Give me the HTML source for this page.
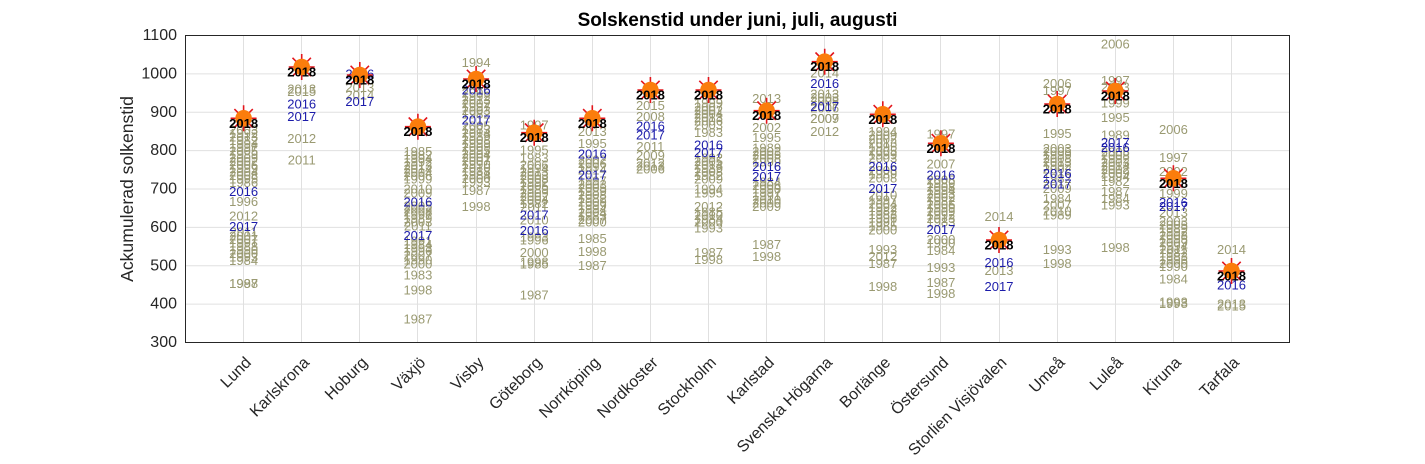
<!DOCTYPE html>
<html><head><meta charset="utf-8"><style>
html,body{margin:0;padding:0;background:#fff;}
svg{display:block;}
text{font-family:"Liberation Sans",Arial,sans-serif;}
.o text{fill:#9a9a72;font-size:13px;text-anchor:middle;dominant-baseline:central;}
.b text{fill:#1c1caa;font-size:13px;text-anchor:middle;dominant-baseline:central;}
.k{fill:#000;font-size:13px;font-weight:bold;text-anchor:middle;dominant-baseline:central;}
.xl{font-size:16px;fill:#262626;text-anchor:end;}
.yl{font-size:16px;fill:#262626;text-anchor:end;dominant-baseline:central;}
</style></head><body>
<svg width="1425" height="464" viewBox="0 0 1425 464" xmlns="http://www.w3.org/2000/svg">
<defs>
<g id="st"><path d="M-13 0H13M0-13V13M-9.2-9.2L9.2 9.2M-9.2 9.2L9.2-9.2" stroke="#e3161c" stroke-width="1.6"/><circle r="8.3" fill="#fb7d0c"/></g>
</defs>
<rect width="1425" height="464" fill="#fff"/>
<!-- grid -->
<g stroke="#e0e0e0" stroke-width="1">
<line x1="185.5" x2="1289.5" y1="73.9" y2="73.9"/>
<line x1="185.5" x2="1289.5" y1="112.3" y2="112.3"/>
<line x1="185.5" x2="1289.5" y1="150.6" y2="150.6"/>
<line x1="185.5" x2="1289.5" y1="189" y2="189"/>
<line x1="185.5" x2="1289.5" y1="227.4" y2="227.4"/>
<line x1="185.5" x2="1289.5" y1="265.8" y2="265.8"/>
<line x1="185.5" x2="1289.5" y1="304.1" y2="304.1"/>
<line y1="35.5" y2="342.5" x1="243.5" x2="243.5"/>
<line y1="35.5" y2="342.5" x1="301.5" x2="301.5"/>
<line y1="35.5" y2="342.5" x1="359.5" x2="359.5"/>
<line y1="35.5" y2="342.5" x1="417.5" x2="417.5"/>
<line y1="35.5" y2="342.5" x1="476.5" x2="476.5"/>
<line y1="35.5" y2="342.5" x1="534.5" x2="534.5"/>
<line y1="35.5" y2="342.5" x1="592.5" x2="592.5"/>
<line y1="35.5" y2="342.5" x1="650.5" x2="650.5"/>
<line y1="35.5" y2="342.5" x1="708.5" x2="708.5"/>
<line y1="35.5" y2="342.5" x1="766.5" x2="766.5"/>
<line y1="35.5" y2="342.5" x1="824.5" x2="824.5"/>
<line y1="35.5" y2="342.5" x1="882.5" x2="882.5"/>
<line y1="35.5" y2="342.5" x1="940.5" x2="940.5"/>
<line y1="35.5" y2="342.5" x1="999.5" x2="999.5"/>
<line y1="35.5" y2="342.5" x1="1057.5" x2="1057.5"/>
<line y1="35.5" y2="342.5" x1="1115.5" x2="1115.5"/>
<line y1="35.5" y2="342.5" x1="1173.5" x2="1173.5"/>
<line y1="35.5" y2="342.5" x1="1231.5" x2="1231.5"/>
</g>

<!-- olive labels -->
<g class="o">
<g transform="translate(243.6,0)">
<text x="0" y="130">2003</text><text x="0" y="133.5">1992</text><text x="0" y="137">2013</text><text x="0" y="140.5">1982</text><text x="0" y="144">1994</text><text x="0" y="147.5">1997</text><text x="0" y="151">2005</text><text x="0" y="154.5">1989</text><text x="0" y="158">2009</text><text x="0" y="161.5">2002</text><text x="0" y="165">2006</text><text x="0" y="168.5">1999</text><text x="0" y="172">2004</text><text x="0" y="175.5">2008</text><text x="0" y="179">1995</text><text x="0" y="182.5">1986</text>
<text x="0" y="201.7">1996</text><text x="0" y="216">2012</text>
<text x="0" y="232">2011</text><text x="0" y="236">2001</text><text x="0" y="239.5">2007</text><text x="0" y="243">1991</text><text x="0" y="246.5">1988</text><text x="0" y="250">1990</text><text x="0" y="253.5">2000</text><text x="0" y="257">1993</text><text x="0" y="260.7">1984</text>
<text x="0" y="283.3">1987</text><text x="0" y="283.3">1998</text>
</g>
<g transform="translate(301.7,0)">
<text x="0" y="89">2013</text><text x="0" y="91.5">2015</text><text x="0" y="138.7">2012</text><text x="0" y="160">2011</text>
</g>
<g transform="translate(359.8,0)">
<text x="0" y="87.5">2013</text><text x="0" y="95">2014</text>
</g>
<g transform="translate(417.9,0)">
<text x="0" y="151.7">1985</text><text x="0" y="155">1982</text><text x="0" y="158.5">1994</text><text x="0" y="162">1992</text><text x="0" y="165.5">2013</text><text x="0" y="169">2014</text><text x="0" y="172.5">2004</text><text x="0" y="176">2006</text><text x="0" y="179">1999</text>
<text x="0" y="189">2010</text><text x="0" y="193">2009</text>
<text x="0" y="206">2005</text><text x="0" y="209">2002</text><text x="0" y="212">2008</text><text x="0" y="215">1997</text><text x="0" y="218.5">1989</text><text x="0" y="222">2003</text><text x="0" y="226">2011</text>
<text x="0" y="241">1991</text><text x="0" y="244.5">1984</text><text x="0" y="248">1993</text><text x="0" y="251">1996</text><text x="0" y="255">2007</text><text x="0" y="260">1990</text><text x="0" y="264">2000</text><text x="0" y="275">1983</text>
<text x="0" y="290">1998</text><text x="0" y="319">1987</text>
</g>
<g transform="translate(476.1,0)">
<text x="0" y="62.7">1994</text>
<text x="0" y="93">2006</text><text x="0" y="96.5">1992</text><text x="0" y="100">2013</text><text x="0" y="103.5">2002</text><text x="0" y="107">1997</text><text x="0" y="110.5">2003</text><text x="0" y="114">1982</text>
<text x="0" y="126">2005</text><text x="0" y="129.5">1983</text><text x="0" y="133">2014</text><text x="0" y="136.5">1989</text><text x="0" y="140">2008</text><text x="0" y="143.5">1999</text><text x="0" y="147">2009</text><text x="0" y="150.5">1995</text><text x="0" y="154">2004</text><text x="0" y="157.5">2001</text><text x="0" y="161">2007</text><text x="0" y="164.5">1990</text><text x="0" y="168">2010</text><text x="0" y="171.5">1988</text><text x="0" y="175">1984</text><text x="0" y="178.5">2000</text><text x="0" y="182">1993</text>
<text x="0" y="190.7">1987</text><text x="0" y="206.7">1998</text>
</g>
<g transform="translate(534.2,0)">
<text x="0" y="125">1997</text><text x="0" y="150">1995</text><text x="0" y="158">1983</text>
<text x="0" y="165">2006</text><text x="0" y="168.5">1994</text><text x="0" y="172">2013</text><text x="0" y="175.5">2003</text><text x="0" y="179">2008</text><text x="0" y="182.5">1992</text><text x="0" y="186">2005</text><text x="0" y="189.5">1989</text><text x="0" y="193">2009</text><text x="0" y="196.5">2002</text><text x="0" y="200">2004</text><text x="0" y="203.5">1982</text><text x="0" y="207">2011</text>
<text x="0" y="220">2010</text><text x="0" y="237">1993</text><text x="0" y="240">1996</text>
<text x="0" y="252.7">2000</text><text x="0" y="262">1998</text><text x="0" y="264">1985</text><text x="0" y="295">1987</text>
</g>
<g transform="translate(592.3,0)">
<text x="0" y="131.7">2013</text><text x="0" y="143.3">1995</text>
<text x="0" y="160">2002</text><text x="0" y="163.5">2006</text><text x="0" y="167">1992</text><text x="0" y="170">2014</text>
<text x="0" y="181">1997</text><text x="0" y="184.5">2003</text><text x="0" y="188">2005</text><text x="0" y="191.5">1989</text><text x="0" y="195">2008</text><text x="0" y="198.5">1982</text><text x="0" y="202">2009</text><text x="0" y="205.5">1999</text><text x="0" y="209">1994</text><text x="0" y="212.5">2004</text><text x="0" y="216">1983</text><text x="0" y="219.5">2007</text><text x="0" y="222">2000</text>
<text x="0" y="238.3">1985</text><text x="0" y="251.7">1998</text><text x="0" y="265.7">1987</text>
</g>
<g transform="translate(650.4,0)">
<text x="0" y="105.7">2015</text><text x="0" y="116.7">2008</text><text x="0" y="146.7">2011</text><text x="0" y="155.7">2009</text><text x="0" y="163">2012</text><text x="0" y="166">2013</text><text x="0" y="169">2006</text>
</g>
<g transform="translate(708.5,0)">
<text x="0" y="103">1999</text><text x="0" y="107">2007</text><text x="0" y="110.5">2002</text><text x="0" y="114">2004</text><text x="0" y="117.5">2013</text><text x="0" y="121">2006</text><text x="0" y="125">2003</text><text x="0" y="132.7">1983</text>
<text x="0" y="158">1992</text><text x="0" y="161.5">2005</text><text x="0" y="165">2014</text><text x="0" y="168.5">1989</text><text x="0" y="172">2008</text><text x="0" y="175.5">1982</text><text x="0" y="179">2009</text>
<text x="0" y="189">1994</text><text x="0" y="193">1995</text><text x="0" y="206.7">2012</text><text x="0" y="212">1985</text><text x="0" y="215.5">2010</text><text x="0" y="219">1984</text><text x="0" y="222">2000</text><text x="0" y="228">1993</text>
<text x="0" y="252.7">1987</text><text x="0" y="259.3">1998</text>
</g>
<g transform="translate(766.6,0)">
<text x="0" y="98.3">2013</text><text x="0" y="127.7">2002</text><text x="0" y="137.3">1995</text>
<text x="0" y="148">1989</text><text x="0" y="151.5">2003</text><text x="0" y="155">2005</text><text x="0" y="158.5">2008</text><text x="0" y="162">1999</text>
<text x="0" y="182">1984</text><text x="0" y="185.5">2006</text><text x="0" y="189">1990</text><text x="0" y="192.5">1997</text><text x="0" y="196">1991</text><text x="0" y="200">2010</text><text x="0" y="203">2000</text><text x="0" y="206.7">2009</text>
<text x="0" y="244.3">1987</text><text x="0" y="256.7">1998</text>
</g>
<g transform="translate(824.7,0)">
<text x="0" y="73">2014</text><text x="0" y="94">2013</text><text x="0" y="97.5">2003</text><text x="0" y="101">2008</text><text x="0" y="108">2006</text><text x="0" y="118.3">2009</text><text x="0" y="118.3">2007</text><text x="0" y="131.7">2012</text>
</g>
<g transform="translate(882.8,0)">
<text x="0" y="131.7">1994</text><text x="0" y="135">2009</text><text x="0" y="139">2002</text><text x="0" y="143">2013</text><text x="0" y="147">1995</text><text x="0" y="151">2005</text><text x="0" y="155">1999</text><text x="0" y="158">2003</text>
<text x="0" y="170.5">2006</text><text x="0" y="174">1989</text><text x="0" y="178">2008</text>
<text x="0" y="195">2010</text><text x="0" y="200">1997</text><text x="0" y="204">2004</text><text x="0" y="207.5">1992</text><text x="0" y="211">1982</text><text x="0" y="214.5">1983</text><text x="0" y="218">1996</text><text x="0" y="222">1991</text><text x="0" y="226">1985</text><text x="0" y="230">2000</text>
<text x="0" y="249.3">1993</text><text x="0" y="256.7">2012</text><text x="0" y="263.3">1987</text><text x="0" y="286.7">1998</text>
</g>
<g transform="translate(940.9,0)">
<text x="0" y="134">1997</text><text x="0" y="164">2007</text>
<text x="0" y="180">2005</text><text x="0" y="183.5">1989</text><text x="0" y="187">2008</text><text x="0" y="190.5">1994</text><text x="0" y="194">2003</text><text x="0" y="197.5">2002</text><text x="0" y="201">1982</text><text x="0" y="204.5">2006</text><text x="0" y="208">1999</text><text x="0" y="211.5">2009</text><text x="0" y="215">1992</text><text x="0" y="218.5">2013</text><text x="0" y="222">1983</text>
<text x="0" y="239.3">2000</text><text x="0" y="243">1990</text><text x="0" y="250.7">1984</text>
<text x="0" y="267.7">1993</text><text x="0" y="282.7">1987</text><text x="0" y="293.3">1998</text>
</g>
<g transform="translate(999,0)">
<text x="0" y="216.7">2014</text><text x="0" y="270.7">2013</text>
</g>
<g transform="translate(1057.2,0)">
<text x="0" y="83.3">2006</text><text x="0" y="90.7">1997</text><text x="0" y="133.3">1995</text>
<text x="0" y="148.3">2003</text><text x="0" y="151.5">2005</text><text x="0" y="155">1999</text><text x="0" y="158.5">2008</text><text x="0" y="162">2013</text><text x="0" y="165.5">1992</text><text x="0" y="169">2002</text>
<text x="0" y="178.5">1982</text><text x="0" y="188.5">2009</text><text x="0" y="198.3">1984</text><text x="0" y="205">2007</text><text x="0" y="211">2010</text><text x="0" y="215">1989</text>
<text x="0" y="249.3">1993</text><text x="0" y="263.3">1998</text>
</g>
<g transform="translate(1115.3,0)">
<text x="0" y="44">2006</text><text x="0" y="80.7">1997</text><text x="0" y="87">2013</text><text x="0" y="103">1999</text><text x="0" y="117.3">1995</text><text x="0" y="135">1989</text>
<text x="0" y="152">2005</text><text x="0" y="155.5">2008</text><text x="0" y="159">1992</text><text x="0" y="162.5">2003</text><text x="0" y="166">2014</text><text x="0" y="169.5">2002</text><text x="0" y="173">2009</text><text x="0" y="176.5">1994</text><text x="0" y="181.7">1982</text>
<text x="0" y="191.7">1987</text><text x="0" y="198.3">1984</text><text x="0" y="205">1993</text><text x="0" y="247.7">1998</text>
</g>
<g transform="translate(1173.4,0)">
<text x="0" y="129.3">2006</text><text x="0" y="157.7">1997</text><text x="0" y="171.7">2002</text><text x="0" y="193.3">1999</text><text x="0" y="212.7">2013</text>
<text x="0" y="221.7">2003</text><text x="0" y="225">2005</text><text x="0" y="228.5">1989</text><text x="0" y="232">1992</text><text x="0" y="235.5">2008</text><text x="0" y="239">1995</text><text x="0" y="242.5">2009</text><text x="0" y="246">1994</text><text x="0" y="249.5">2011</text><text x="0" y="253">1982</text><text x="0" y="256.5">1983</text><text x="0" y="260">1996</text><text x="0" y="263.5">2000</text><text x="0" y="266.7">1990</text>
<text x="0" y="279">1984</text><text x="0" y="302">1993</text><text x="0" y="303.5">1998</text>
</g>
<g transform="translate(1231.5,0)">
<text x="0" y="249.3">2014</text><text x="0" y="304">2013</text><text x="0" y="306">2015</text>
</g>
</g>

<!-- blue labels -->
<g class="b">
<text x="243.6" y="191.7">2016</text><text x="243.6" y="226.7">2017</text>
<text x="301.7" y="104">2016</text><text x="301.7" y="116.7">2017</text>
<text x="359.8" y="74">2016</text><text x="359.8" y="101.7">2017</text>
<text x="417.9" y="202">2016</text><text x="417.9" y="235.7">2017</text>
<text x="476.1" y="90">2016</text><text x="476.1" y="120">2017</text>
<text x="534.2" y="230.7">2016</text><text x="534.2" y="215">2017</text>
<text x="592.3" y="154">2016</text><text x="592.3" y="175">2017</text>
<text x="650.4" y="126">2016</text><text x="650.4" y="135">2017</text>
<text x="708.5" y="145">2016</text><text x="708.5" y="152.7">2017</text>
<text x="766.6" y="166.7">2016</text><text x="766.6" y="176.7">2017</text>
<text x="824.7" y="83.3">2016</text><text x="824.7" y="106.7">2017</text>
<text x="882.8" y="166.7">2016</text><text x="882.8" y="188.3">2017</text>
<text x="940.9" y="175">2016</text><text x="940.9" y="229.3">2017</text>
<text x="999" y="262.7">2016</text><text x="999" y="286.7">2017</text>
<text x="1057.2" y="173.3">2016</text><text x="1057.2" y="184">2017</text>
<text x="1115.3" y="147.3">2016</text><text x="1115.3" y="142.7">2017</text>
<text x="1173.4" y="202.7">2016</text><text x="1173.4" y="206.7">2017</text>
<text x="1231.5" y="285">2016</text>
</g>

<!-- stars (marker ~5px above label centre) -->
<g>
<use href="#st" transform="translate(243.6,118.3)"/>
<use href="#st" transform="translate(301.7,67)"/>
<use href="#st" transform="translate(359.8,75)"/>
<use href="#st" transform="translate(417.9,126.7)"/>
<use href="#st" transform="translate(476.1,79)"/>
<use href="#st" transform="translate(534.2,132.7)"/>
<use href="#st" transform="translate(592.3,118.3)"/>
<use href="#st" transform="translate(650.4,90)"/>
<use href="#st" transform="translate(708.5,90)"/>
<use href="#st" transform="translate(766.6,110.7)"/>
<use href="#st" transform="translate(824.7,61.7)"/>
<use href="#st" transform="translate(882.8,114.3)"/>
<use href="#st" transform="translate(940.9,143.3)"/>
<use href="#st" transform="translate(999,240)"/>
<use href="#st" transform="translate(1057.2,104)"/>
<use href="#st" transform="translate(1115.3,91)"/>
<use href="#st" transform="translate(1173.4,178.3)"/>
<use href="#st" transform="translate(1231.5,271)"/>
</g>
<g>
<text class="k" x="243.6" y="123.3">2018</text>
<text class="k" x="301.7" y="72">2018</text>
<text class="k" x="359.8" y="80">2018</text>
<text class="k" x="417.9" y="131.7">2018</text>
<text class="k" x="476.1" y="84">2018</text>
<text class="k" x="534.2" y="137.7">2018</text>
<text class="k" x="592.3" y="123.3">2018</text>
<text class="k" x="650.4" y="95">2018</text>
<text class="k" x="708.5" y="95">2018</text>
<text class="k" x="766.6" y="115.7">2018</text>
<text class="k" x="824.7" y="66.7">2018</text>
<text class="k" x="882.8" y="119.3">2018</text>
<text class="k" x="940.9" y="148.3">2018</text>
<text class="k" x="999" y="245">2018</text>
<text class="k" x="1057.2" y="109">2018</text>
<text class="k" x="1115.3" y="96">2018</text>
<text class="k" x="1173.4" y="183.3">2018</text>
<text class="k" x="1231.5" y="276">2018</text>
</g>

<!-- axes box -->
<rect x="185.5" y="35.5" width="1104" height="307" fill="none" stroke="#262626" stroke-width="1"/>

<!-- y tick labels -->
<g class="yl">
<text x="177" y="35.5">1100</text>
<text x="177" y="73.9">1000</text>
<text x="177" y="112.3">900</text>
<text x="177" y="150.6">800</text>
<text x="177" y="189">700</text>
<text x="177" y="227.4">600</text>
<text x="177" y="265.8">500</text>
<text x="177" y="304.1">400</text>
<text x="177" y="342.5">300</text>
</g>

<!-- x tick labels -->
<g class="xl">
<text transform="translate(252.1,363.5) rotate(-45)">Lund</text>
<text transform="translate(310.2,363.5) rotate(-45)">Karlskrona</text>
<text transform="translate(368.3,363.5) rotate(-45)">Hoburg</text>
<text transform="translate(426.4,363.5) rotate(-45)">Växjö</text>
<text transform="translate(484.6,363.5) rotate(-45)">Visby</text>
<text transform="translate(542.7,363.5) rotate(-45)">Göteborg</text>
<text transform="translate(600.8,363.5) rotate(-45)">Norrköping</text>
<text transform="translate(658.9,363.5) rotate(-45)">Nordkoster</text>
<text transform="translate(717,363.5) rotate(-45)">Stockholm</text>
<text transform="translate(775.1,363.5) rotate(-45)">Karlstad</text>
<text transform="translate(833.2,363.5) rotate(-45)">Svenska Högarna</text>
<text transform="translate(891.3,363.5) rotate(-45)">Borlänge</text>
<text transform="translate(949.4,363.5) rotate(-45)">Östersund</text>
<text transform="translate(1007.5,363.5) rotate(-45)">Storlien Visjövalen</text>
<text transform="translate(1065.7,363.5) rotate(-45)">Umeå</text>
<text transform="translate(1123.8,363.5) rotate(-45)">Luleå</text>
<text transform="translate(1181.9,363.5) rotate(-45)">Kiruna</text>
<text transform="translate(1240,363.5) rotate(-45)">Tarfala</text>
</g>

<!-- y label -->
<text transform="translate(133,189) rotate(-90)" text-anchor="middle" style="font-size:17.6px;fill:#262626;">Ackumulerad solkenstid</text>

<!-- title -->
<text x="737.5" y="26" text-anchor="middle" style="font-size:19px;font-weight:bold;fill:#000;">Solskenstid under juni, juli, augusti</text>
</svg>
</body></html>
